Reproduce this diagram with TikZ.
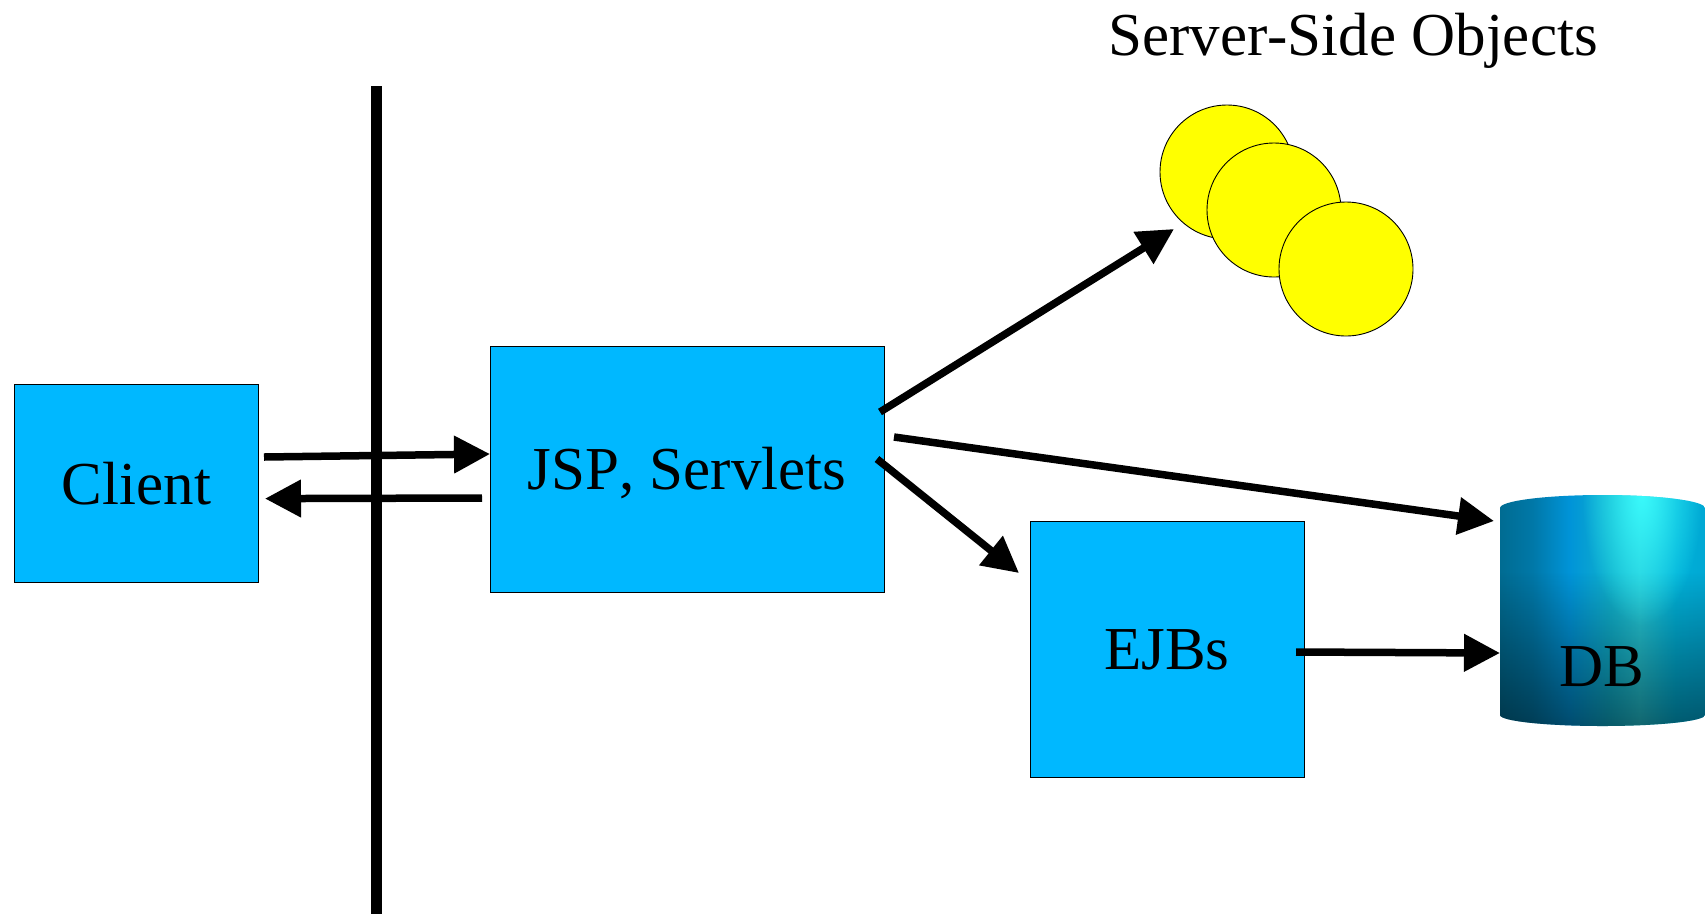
\documentclass[tikz,border=0pt]{standalone}
\usepackage{fontspec}
\setmainfont[Kerning=Off]{Liberation Serif}
\usetikzlibrary{arrows.meta,fadings}
\definecolor{boxblue}{RGB}{0,184,255}
\definecolor{ballyellow}{RGB}{255,255,0}
\definecolor{glowcyan}{RGB}{60,255,255}
\definecolor{dbA}{HTML}{006C92}
\definecolor{dbB}{HTML}{0078A8}
\definecolor{dbC}{HTML}{0094D8}
\definecolor{dbD}{HTML}{10B0CC}
\definecolor{dbE}{HTML}{24C8D8}
\definecolor{dbF}{HTML}{00B0D8}
\definecolor{dbG}{HTML}{00A8D4}
\pgfdeclarehorizontalshading{dbbase}{100bp}{
  color(0bp)=(dbA); color(25bp)=(dbA); color(33bp)=(dbB); color(42bp)=(dbC);
  color(52bp)=(dbD); color(59bp)=(dbE); color(68bp)=(dbF); color(75bp)=(dbG); color(100bp)=(dbG)}
\pgfdeclareverticalshading{dbdarkfade}{100bp}{
  color(0bp)=(transparent!50); color(25bp)=(transparent!50); color(40bp)=(transparent!72);
  color(58bp)=(transparent!100); color(100bp)=(transparent!100)}
\pgfdeclarefading{dbdark}{\pgfuseshading{dbdarkfade}}
\tikzfading[name=dbglow, inner color=transparent!10, outer color=transparent!100]
\tikzset{
  box/.style={draw=black,line width=0.8pt,fill=boxblue,inner sep=0pt,outer sep=0pt,
    text height=41pt,text depth=0pt,font=\fontsize{61pt}{61pt}\selectfont},
  ball/.style={circle,draw=black,line width=0.9pt,fill=ballyellow,minimum size=134pt,inner sep=0pt,outer sep=0pt},
  flow/.style={line width=7.5pt,-{Triangle[length=36pt,width=36pt]}},
  label/.style={inner sep=0pt,text height=41pt,text depth=0pt,font=\fontsize{61pt}{61pt}\selectfont},
  wall/.style={line width=11pt}
}
\def\dbpath{(1500,508) arc[start angle=180,end angle=0,x radius=102.5pt,y radius=13pt]
  -- (1705,715) arc[start angle=0,end angle=-180,x radius=102.5pt,y radius=11pt] -- cycle}
\begin{document}
\begin{tikzpicture}[x=1pt,y=-1pt]
\useasboundingbox (0,0) rectangle (1705,914);
% boxes
\node[box,minimum width=244pt,minimum height=198pt] (client) at (136.5,483.5) {Client};
\node[box,minimum width=394pt,minimum height=246pt] (jsp) at (687,469) {JSP, Servlets};
\node[box,minimum width=274pt,minimum height=256pt] (ejb) at (1167,649) {EJBs};
% server-side objects
\node[ball] (o1) at (1227,172) {};
\node[ball] (o2) at (1274,210) {};
\node[ball] (o3) at (1346,269) {};
\node[label] (title) at (1353,35) {Server-Side Objects};
% database
\begin{scope}
  \clip \dbpath;
  \shade[shading=dbbase] (1500,490) rectangle (1705,730);
  \fill[black,path fading=dbdark] (1500,490) rectangle (1705,730);
  \fill[glowcyan,path fading=dbglow] (1642,495) ellipse [x radius=60pt,y radius=130pt];
\end{scope}
\node[label] (db) at (1602,665.5) {DB};
% firewall
\coordinate (walltop) at (376,86);
\coordinate (wallbot) at (376,914);
\draw[wall] (walltop) -- (wallbot);
% connector ends
\coordinate (c1s) at (264,457);
\coordinate (c1e) at (490,454);
\coordinate (c2s) at (482,498);
\coordinate (c2e) at (265,498.6);
\coordinate (j1s) at (880,412);
\coordinate (j1e) at (1174,229);
\coordinate (j2s) at (894,437);
\coordinate (j2e) at (1494,521);
\coordinate (j3s) at (877,459);
\coordinate (j3e) at (1019,573);
\coordinate (e1s) at (1296,652);
\coordinate (e1e) at (1500,653);
\draw[flow] (c1s) -- (c1e);
\draw[flow] (c2s) -- (c2e);
\draw[flow] (j1s) -- (j1e);
\draw[flow] (j2s) -- (j2e);
\draw[flow] (j3s) -- (j3e);
\draw[flow] (e1s) -- (e1e);
\end{tikzpicture}
\end{document}
